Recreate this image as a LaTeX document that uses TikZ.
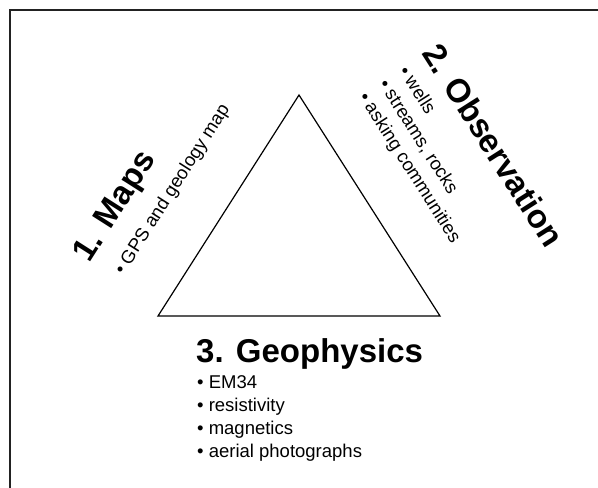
\documentclass[tikz,border=0pt]{standalone}
\usepackage{fontspec}
\setmainfont{Liberation Sans}
\begin{document}
\begin{tikzpicture}[x=1pt,y=-1pt,
  head/.style={font=\fontsize{33}{36}\selectfont\bfseries, inner sep=0pt},
  item/.style={font=\fontsize{18.5}{22}\selectfont, inner sep=0pt},
  edge/.style={line width=1.2pt, line join=miter}]
\useasboundingbox (0,0) rectangle (598,488);
\draw[line width=2pt, color={rgb,255:red,34;green,34;blue,34}] (10,492) -- (10,10) -- (602,10);
\coordinate (top) at (299,95);
\coordinate (bl) at (158,316);
\coordinate (br) at (440,316);
\draw[edge] (top) -- (bl) -- (br) -- cycle;
% 1. Maps
\node[head, rotate=57.5, anchor=base west] (maps) at (89.5,264) {1. Maps};
\node[item, rotate=57.5, anchor=base west] (mapsa) at (123.5,276) {• GPS and geology map};
% 2. Observation
\node[head, rotate=-57.5, anchor=base west] (obs) at (421,53) {2. Observation};
\node[item, rotate=-57.5, anchor=base west] (obsa) at (398,71) {• wells};
\node[item, rotate=-57.5, anchor=base west] (obsb) at (378,84) {• streams, rocks};
\node[item, rotate=-57.5, anchor=base west] (obsc) at (358,97) {• asking communities};
% 3. Geophysics
\node[head, anchor=base west] (geo) at (196,362) {3. Geophysics};
\node[item, anchor=base west] (geoa) at (197,388) {• EM34};
\node[item, anchor=base west] (geob) at (197,411) {• resistivity};
\node[item, anchor=base west] (geoc) at (197,434) {• magnetics};
\node[item, anchor=base west] (geod) at (197,457) {• aerial photographs};
\end{tikzpicture}
\end{document}
